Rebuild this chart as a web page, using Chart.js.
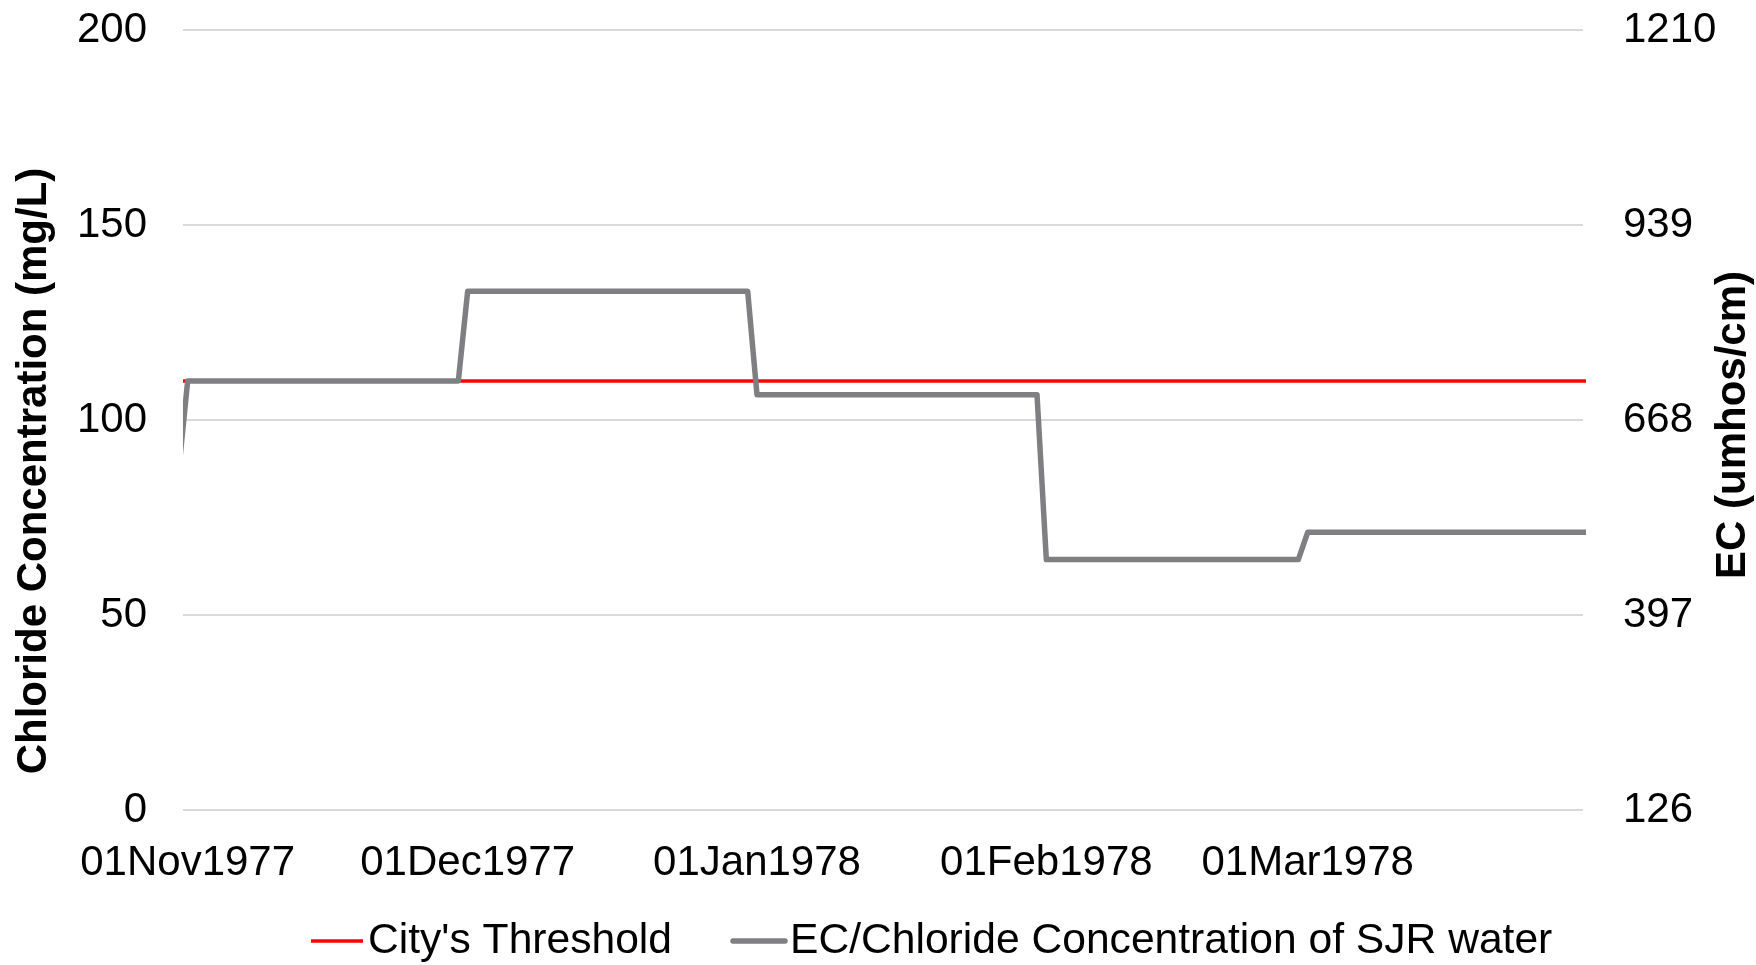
<!DOCTYPE html>
<html>
<head>
<meta charset="utf-8">
<script src="https://cdn.jsdelivr.net/npm/chart.js@4.4.1/dist/chart.umd.min.js"></script>
<style>
  html, body { margin: 0; padding: 0; background: #fff; }
  #wrap { width: 1756px; height: 965px; position: relative; }
</style>
</head>
<body>
<div id="wrap"><canvas id="chlorideChart"></canvas></div>
<script>
// Serie diaria de cloruros (mg/L)
const firstDate = '1977-10-31';   // primer punto (queda recortado en el borde izquierdo)
const oct1977 = [86];
const nov1977 = [110, 110, 110, 110, 110, 110, 110, 110, 110, 110,
                 110, 110, 110, 110, 110, 110, 110, 110, 110, 110,
                 110, 110, 110, 110, 110, 110, 110, 110, 110, 110];
const dec1977 = [133, 133, 133, 133, 133, 133, 133, 133, 133, 133,
                 133, 133, 133, 133, 133, 133, 133, 133, 133, 133,
                 133, 133, 133, 133, 133, 133, 133, 133, 133, 133, 133];
const jan1978 = [106.5, 106.5, 106.5, 106.5, 106.5, 106.5, 106.5, 106.5, 106.5, 106.5,
                 106.5, 106.5, 106.5, 106.5, 106.5, 106.5, 106.5, 106.5, 106.5, 106.5,
                 106.5, 106.5, 106.5, 106.5, 106.5, 106.5, 106.5, 106.5, 106.5, 106.5, 106.5];
const feb1978 = [64.2, 64.2, 64.2, 64.2, 64.2, 64.2, 64.2, 64.2, 64.2, 64.2,
                 64.2, 64.2, 64.2, 64.2, 64.2, 64.2, 64.2, 64.2, 64.2, 64.2,
                 64.2, 64.2, 64.2, 64.2, 64.2, 64.2, 64.2, 64.2];
const mar1978 = [71.2, 71.2, 71.2, 71.2, 71.2, 71.2, 71.2, 71.2, 71.2, 71.2,
                 71.2, 71.2, 71.2, 71.2, 71.2, 71.2, 71.2, 71.2, 71.2, 71.2,
                 71.2, 71.2, 71.2, 71.2, 71.2, 71.2, 71.2, 71.2, 71.2, 71.2, 71.2];

const cityThreshold = 110; // mg/L

// Etiquetas del eje X (primer día de cada mes)
const tickDates = ['1977-11-01', '1977-12-01', '1978-01-01', '1978-02-01', '1978-03-01'];
const tickLabels = ['01Nov1977', '01Dec1977', '01Jan1978', '01Feb1978', '01Mar1978'];

// Ejes
const chlorideTicks = [0, 50, 100, 150, 200];
const ecTicks = [126, 397, 668, 939, 1210];

const seriesNames = ["City's Threshold", 'EC/Chloride Concentration of SJR water'];
const seriesColors = ['#ff0000', '#7f7f82'];

const DAY = 86400000;
const origin = Date.parse('1977-11-01');
function dayIndex(iso) {
  return Math.round((Date.parse(iso) - origin) / DAY);
}

const chloride = [].concat(oct1977, nov1977, dec1977, jan1978, feb1978, mar1978);
const startDay = dayIndex(firstDate);
const ecPoints = chloride.map((v, i) => ({ x: startDay + i, y: v }));
const thresholdPoints = chloride.map((v, i) => ({ x: startDay + i, y: cityThreshold }));
const tickDays = tickDates.map(dayIndex);

// Títulos de ejes (ambos girados hacia arriba) y leyenda
const sideTitlesAndLegend = {
  id: 'sideTitlesAndLegend',
  afterDraw(chart) {
    const ctx = chart.ctx;
    ctx.save();
    ctx.fillStyle = '#000';
    ctx.font = 'bold 42px "Liberation Sans", Arial, sans-serif';
    ctx.textAlign = 'center';
    ctx.textBaseline = 'middle';

    ctx.save();
    ctx.translate(34, 471);
    ctx.rotate(-Math.PI / 2);
    ctx.fillText('Chloride Concentration (mg/L)', 0, 0);
    ctx.restore();

    ctx.save();
    ctx.translate(1733, 425);
    ctx.rotate(-Math.PI / 2);
    ctx.fillText('EC (umhos/cm)', 0, 0);
    ctx.restore();

    // leyenda
    const y = 941;
    const items = [
      { x: 311, len: 52, width: 3.5, text: seriesNames[0], color: seriesColors[0] },
      { x: 733, len: 52, width: 5.5, text: seriesNames[1], color: seriesColors[1] }
    ];
    ctx.font = '42.6px "Liberation Sans", Arial, sans-serif';
    ctx.textAlign = 'left';
    items.forEach(it => {
      ctx.strokeStyle = it.color;
      ctx.lineWidth = it.width;
      ctx.lineCap = it.width > 4 ? 'round' : 'butt';
      ctx.beginPath();
      ctx.moveTo(it.x, y);
      ctx.lineTo(it.x + it.len, y);
      ctx.stroke();
      ctx.fillStyle = '#000';
      ctx.fillText(it.text, it.x + it.len + 5, y);
    });
    ctx.restore();
  }
};

const tickFont = { family: '"Liberation Sans", Arial, sans-serif', size: 42 };

// quita el relleno automático que Chart.js deja para la mitad de la etiqueta
function fixYAxis(width) {
  return scale => {
    scale.width = width;
    scale.paddingTop = 0;
    scale.paddingBottom = 0;
  };
}

new Chart(document.getElementById('chlorideChart'), {
  type: 'line',
  data: {
    datasets: [
      {
        label: seriesNames[0],
        data: thresholdPoints,
        borderColor: seriesColors[0],
        borderWidth: 3.5,
        pointRadius: 0,
        tension: 0,
        order: 1,
        clip: { left: 0, top: 4, right: 3, bottom: 4 },
        yAxisID: 'y'
      },
      {
        label: seriesNames[1],
        data: ecPoints,
        borderColor: seriesColors[1],
        borderWidth: 5.5,
        borderJoinStyle: 'round',
        pointRadius: 0,
        tension: 0,
        order: 0,
        clip: { left: 0, top: 4, right: 3, bottom: 4 },
        yAxisID: 'y'
      }
    ]
  },
  options: {
    responsive: true,
    maintainAspectRatio: false,
    animation: false,
    devicePixelRatio: 1,
    layout: { padding: { top: 30, bottom: 0, left: 0, right: 0 } },
    plugins: {
      legend: { display: false },
      tooltip: { enabled: false }
    },
    scales: {
      x: {
        type: 'linear',
        min: -0.5,
        max: 149.5,
        grid: { display: false },
        border: { display: false },
        afterBuildTicks: scale => { scale.ticks = tickDays.map(v => ({ value: v })); },
        afterFit: scale => {
          scale.height = 155;
          scale.paddingLeft = 0;
          scale.paddingRight = 0;
        },
        ticks: {
          autoSkip: false,
          maxRotation: 0,
          padding: 20,
          color: '#000',
          font: tickFont,
          callback: value => tickLabels[tickDays.indexOf(value)]
        }
      },
      y: {
        position: 'left',
        min: 0,
        max: 200,
        afterBuildTicks: scale => { scale.ticks = chlorideTicks.map(v => ({ value: v })); },
        afterFit: fixYAxis(183),
        grid: { color: '#d9d9d9', lineWidth: 2, drawTicks: false },
        border: { display: false },
        ticks: { padding: 36, color: '#000', font: tickFont, callback: v => String(v) }
      },
      yEC: {
        position: 'right',
        min: 126,
        max: 1210,
        afterBuildTicks: scale => { scale.ticks = ecTicks.map(v => ({ value: v })); },
        afterFit: fixYAxis(173),
        grid: { display: false, drawTicks: false },
        border: { display: false },
        ticks: { padding: 40, color: '#000', font: tickFont, callback: v => String(v) }
      }
    }
  },
  plugins: [sideTitlesAndLegend]
});
</script>
</body>
</html>
